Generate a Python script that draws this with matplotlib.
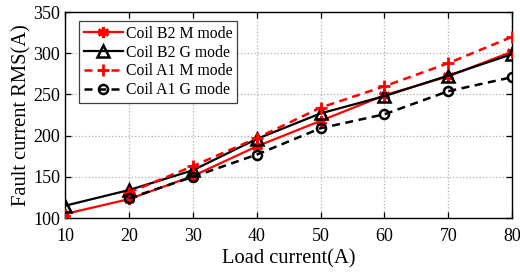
import numpy as np
import matplotlib.pyplot as plt

plt.rcParams['font.family'] = ['Liberation Serif', 'DejaVu Serif']

# load current (A)
load = [10, 20, 30, 40, 50, 60, 70, 80]
load_a1 = [20, 30, 40, 50, 60, 70, 80]

# fault current RMS (A)
b2_m = [105, 123, 151, 187, 218, 249, 272, 302]
b2_g = [115, 134, 158, 196, 227, 248, 273, 299]
a1_m = [131, 163, 197, 234, 260, 288, 320]
a1_g = [124, 150, 177, 209, 226, 254, 271]

fig = plt.figure(figsize=(5.2, 2.74), dpi=100)
ax = fig.add_axes([0.125, 0.204, 0.86, 0.752])

ax.plot(load, b2_m, color='red', lw=1.6, marker=(6, 2, 0), ms=8, mew=2.2,
        label='Coil B2 M mode', zorder=3)
ax.plot(load, b2_g, color='black', lw=1.6, marker='^', ms=8, mew=1.8,
        mfc='none', label='Coil B2 G mode', zorder=3)
ax.plot(load_a1, a1_m, color='red', lw=1.8, ls=(0, (3.2, 2.2)), marker='+',
        ms=9, mew=2, label='Coil A1 M mode', zorder=3)
ax.plot(load_a1, a1_g, color='black', lw=1.8, ls=(0, (3.2, 2.2)), marker='o',
        ms=6.5, mew=1.8, mfc='none', label='Coil A1 G mode', zorder=3)

ax.set_xlim(10, 80)
ax.set_ylim(100, 350)
ax.set_xticks(np.arange(10, 81, 10))
ax.set_yticks(np.arange(100, 351, 50))
ax.grid(True, color='#b0b0b0', ls=':', lw=0.9)
ax.tick_params(direction='in', top=True, right=True, labelsize=13, length=4, width=0.9)
ax.tick_params(axis='x', pad=7)
for s in ax.spines.values():
    s.set_linewidth(1.0)

ax.set_xlabel('Load current(A)', fontsize=14.8, labelpad=3)
ax.set_ylabel('Fault current RMS(A)', fontsize=14.8, labelpad=1)

leg = ax.legend(loc='upper left', bbox_to_anchor=(0.031, 0.956), fontsize=11.3,
                fancybox=False, framealpha=1, edgecolor='#404040',
                handlelength=2.5, handletextpad=0.2, borderpad=0.3,
                labelspacing=0.18, borderaxespad=0)
leg.get_frame().set_linewidth(0.9)

fig.savefig('out.png', dpi=100)
